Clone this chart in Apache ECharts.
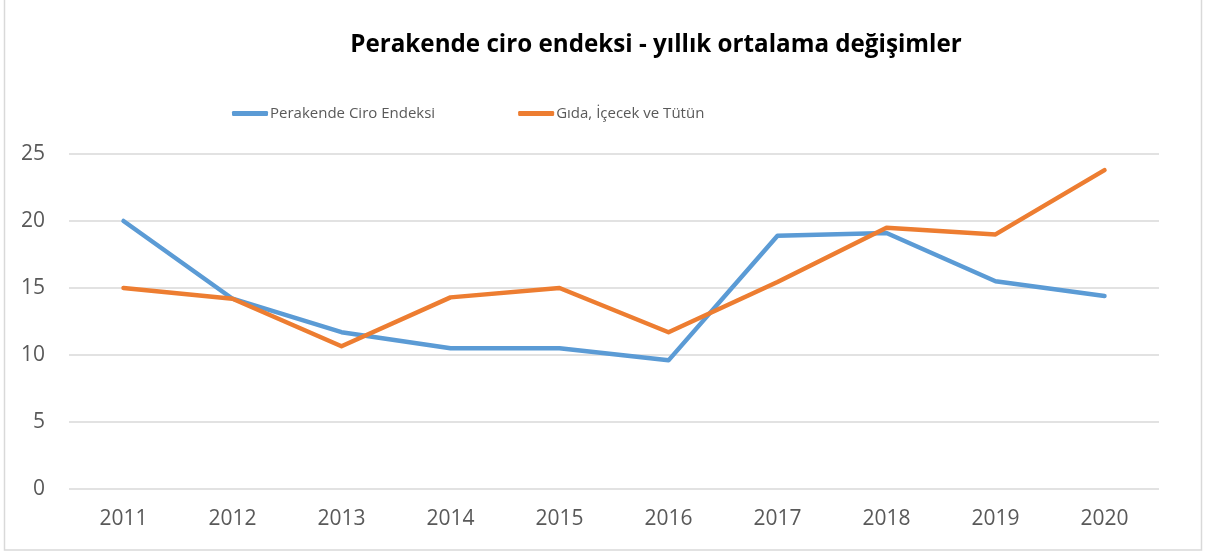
<!DOCTYPE html>
<html>
<head>
<meta charset="utf-8">
<script src="https://cdn.jsdelivr.net/npm/echarts@6/dist/echarts.min.js"></script>
<style>
  html, body { margin: 0; padding: 0; background: #fff; }
  #chart { width: 1206px; height: 553px; }
</style>
</head>
<body>
<div id="chart"></div>
<script>
const years = ["2011", "2012", "2013", "2014", "2015", "2016", "2017", "2018", "2019", "2020"];
const perakendeCiro = [20.0, 14.2, 11.7, 10.5, 10.5, 9.6, 18.9, 19.1, 15.5, 14.4];
const gidaIcecekTutun = [15.0, 14.2, 10.65, 14.3, 15.0, 11.7, 15.45, 19.5, 19.0, 23.8];

const textColor = "#595959";
const fontFamily = "'Open Sans', 'Noto Sans', sans-serif";

const chart = echarts.init(document.getElementById("chart"));

const options = {
  animation: false,
  backgroundColor: "#fff",
  title: {
    text: "Perakende ciro endeksi - yıllık ortalama değişimler",
    left: 651,
    textAlign: "center",
    top: 28,
    textStyle: {
      fontFamily: fontFamily,
      fontSize: 24.2,
      fontWeight: "bold",
      color: "#000",
    },
  },
  legend: {
    top: 101,
    left: 227,
    itemWidth: 36,
    itemHeight: 5,
    itemGap: 83,
    icon: "roundRect",
    textStyle: {
      fontFamily: fontFamily,
      fontSize: 15,
      color: textColor,
      padding: [0, 0, 0, -3],
    },
  },
  grid: {
    left: 69,
    right: 47,
    top: 154,
    bottom: 64,
    containLabel: false,
  },
  xAxis: {
    type: "category",
    data: years,
    boundaryGap: true,
    axisLine: { show: false },
    axisTick: { show: false },
    axisLabel: {
      fontFamily: fontFamily,
      fontSize: 21,
      color: textColor,
      margin: 20,
    },
  },
  yAxis: {
    type: "value",
    min: 0,
    max: 25,
    interval: 5,
    axisLine: { show: false },
    axisTick: { show: false },
    axisLabel: {
      fontFamily: fontFamily,
      fontSize: 21,
      color: textColor,
      margin: 24,
    },
    splitLine: { lineStyle: { color: "#d9d9d9", width: 1.5 } },
  },
  series: [
    {
      name: "Perakende Ciro Endeksi",
      type: "line",
      data: perakendeCiro,
      symbol: "none",
      color: "#5b9bd5",
      lineStyle: { width: 4.5, cap: "round", join: "round" },
    },
    {
      name: "Gıda, İçecek ve Tütün",
      type: "line",
      data: gidaIcecekTutun,
      symbol: "none",
      color: "#ed7d31",
      lineStyle: { width: 4.5, cap: "round", join: "round" },
    },
  ],
  graphic: [
    {
      type: "rect",
      shape: { x: 4.5, y: -2, width: 1197, height: 552 },
      style: { fill: "none", stroke: "#d9d9d9", lineWidth: 1.5 },
      silent: true,
    },
  ],
};

chart.setOption(options);
</script>
</body>
</html>
